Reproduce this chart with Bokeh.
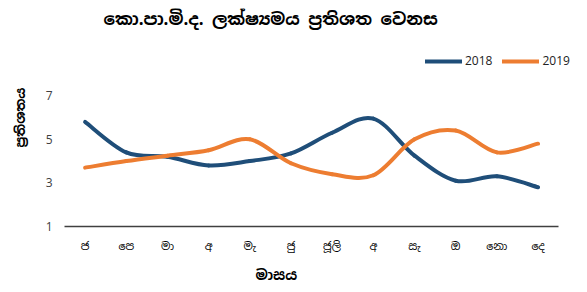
from bokeh.plotting import figure
from bokeh.models import Legend, LegendItem, FixedTicker, Range1d, ColumnDataSource, Title, Label
from bokeh.embed import file_html
from bokeh.resources import INLINE

months = ["ජ", "පෙ", "මා", "අ", "මැ", "ජු", "ජූලි", "අ", "සැ", "ඔ", "නො", "දෙ"]
s2018 = [5.8, 4.4, 4.2, 3.8, 4.0, 4.35, 5.3, 5.95, 4.25, 3.1, 3.3, 2.8]
s2019 = [3.7, 4.0, 4.25, 4.5, 5.0, 3.9, 3.4, 3.35, 5.0, 5.4, 4.4, 4.8]
y_ticks = [1, 3, 5, 7]

SIN = "Noto Sans Sinhala, Noto Serif Sinhala, Noto Sans, sans-serif"
LAT = "Open Sans, Noto Sans, sans-serif"

def smooth(ys):
    xs = list(range(len(ys)))
    n = len(ys)
    d = dict(x0=[], y0=[], x1=[], y1=[], cx0=[], cy0=[], cx1=[], cy1=[])
    for i in range(n - 1):
        p0 = (xs[max(i - 1, 0)], ys[max(i - 1, 0)])
        p1 = (xs[i], ys[i])
        p2 = (xs[i + 1], ys[i + 1])
        p3 = (xs[min(i + 2, n - 1)], ys[min(i + 2, n - 1)])
        d["x0"].append(p1[0]); d["y0"].append(p1[1])
        d["x1"].append(p2[0]); d["y1"].append(p2[1])
        d["cx0"].append(p1[0] + (p2[0] - p0[0]) / 6); d["cy0"].append(p1[1] + (p2[1] - p0[1]) / 6)
        d["cx1"].append(p2[0] - (p3[0] - p1[0]) / 6); d["cy1"].append(p2[1] - (p3[1] - p1[1]) / 6)
    return ColumnDataSource(d)

n = len(months)
p = figure(width=579, height=292, output_backend="svg", toolbar_location=None,
           x_range=Range1d(-0.5, n - 0.5 + 0.41), y_range=Range1d(1, 11.0),
           min_border_left=64, min_border_right=4, min_border_top=8, min_border_bottom=66)
p.outline_line_color = None
p.grid.visible = False
p.background_fill_color = "white"

r18 = p.bezier(x0="x0", y0="y0", x1="x1", y1="y1", cx0="cx0", cy0="cy0", cx1="cx1", cy1="cy1",
               source=smooth(s2018), line_color="#1F4E79", line_width=4, line_cap="round")
r19 = p.bezier(x0="x0", y0="y0", x1="x1", y1="y1", cx0="cx0", cy0="cy0", cx1="cx1", cy1="cy1",
               source=smooth(s2019), line_color="#ED7D31", line_width=4, line_cap="round")

xa = p.xaxis[0]
xa.ticker = FixedTicker(ticks=list(range(n)))
xa.bounds = (-0.5, n - 0.5)
xa.major_label_overrides = {i: m for i, m in enumerate(months)}
xa.axis_line_color = "#404040"
xa.axis_line_width = 1.5
xa.major_tick_line_color = None
xa.minor_tick_line_color = None
xa.major_label_text_font = SIN
xa.major_label_text_font_size = "11px"
xa.major_label_text_color = "#000000"
xa.major_label_standoff = 6

ya = p.yaxis[0]
ya.ticker = FixedTicker(ticks=y_ticks)
ya.axis_line_color = None
ya.major_tick_line_color = None
ya.minor_tick_line_color = None
ya.major_tick_out = 0
ya.major_label_standoff = 12
ya.major_label_text_font = LAT
ya.major_label_text_font_size = "12px"
ya.major_label_text_color = "#404040"
ya.axis_label = "ප්‍රතිශතය"
ya.axis_label_text_font = SIN
ya.axis_label_text_font_size = "13px"
ya.axis_label_text_font_style = "bold"
ya.axis_label_text_color = "#000000"
ya.axis_label_standoff = 14

legend = Legend(items=[LegendItem(label="2018", renderers=[r18]), LegendItem(label="2019", renderers=[r19])],
                orientation="horizontal", location=(361, 157), border_line_color=None,
                background_fill_alpha=0, padding=0, margin=0, spacing=10, label_standoff=3,
                glyph_width=37, glyph_height=14, label_text_font=LAT, label_text_font_size="12px",
                label_text_color="#222222")
p.add_layout(legend, "center")

p.add_layout(Label(x=39, y=208, x_units="screen", y_units="screen", text="කො.පා.මි.ද. ලක්ෂ්‍යමය ප්‍රතිශත වෙනස",
                   text_font=SIN, text_font_size="17px", text_font_style="bold", text_baseline="middle",
                   text_align="left", text_color="#000000"))
p.add_layout(Title(text="මාසය", align="left", offset=191, standoff=17,
                   text_font=SIN, text_font_size="14px", text_font_style="bold", text_color="#000000"), "below")

open("out.html", "w").write(file_html(p, INLINE))
